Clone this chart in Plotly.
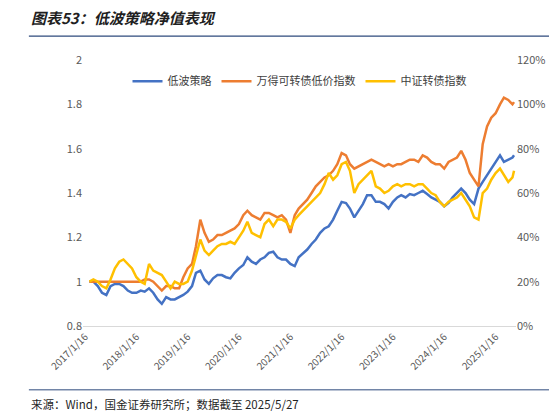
import pandas as pd
import plotly.graph_objects as go

dates = list(pd.date_range("2017-01-16", periods=101, freq="MS") + pd.Timedelta(days=15))
dates[-1] = pd.Timestamp("2025-05-27")

low_vol = [1.0, 1.0, 0.98, 0.95, 0.94, 0.98, 0.99, 0.99, 0.98, 0.96, 0.95, 0.95,
           0.96, 0.955, 0.97, 0.95, 0.92, 0.90, 0.93, 0.92, 0.92, 0.93, 0.94, 0.955,
           0.98, 1.04, 1.05, 1.01, 0.99, 1.015, 1.03, 1.03, 1.02, 1.015, 1.04, 1.06,
           1.075, 1.11, 1.09, 1.08, 1.10, 1.11, 1.13, 1.135, 1.11, 1.10, 1.10, 1.08,
           1.07, 1.11, 1.13, 1.145, 1.17, 1.19, 1.22, 1.24, 1.25, 1.28, 1.32, 1.36,
           1.355, 1.33, 1.29, 1.32, 1.35, 1.39, 1.39, 1.36, 1.36, 1.35, 1.33, 1.36,
           1.38, 1.39, 1.38, 1.395, 1.39, 1.40, 1.41, 1.395, 1.38, 1.37, 1.36, 1.34,
           1.355, 1.38, 1.40, 1.42, 1.40, 1.37, 1.35, 1.42, 1.45, 1.48, 1.51, 1.54,
           1.57, 1.54, 1.55, 1.56, 1.57]
cb_low = [1.0, 1.0, 1.0, 1.0, 1.0, 1.0, 1.0, 1.0, 1.0, 1.0, 1.0, 1.0,
          1.0, 1.01, 1.01, 1.0, 0.98, 0.96, 0.98, 0.98, 0.97, 0.97, 1.02, 1.06,
          1.08, 1.16, 1.28, 1.22, 1.18, 1.19, 1.21, 1.21, 1.22, 1.23, 1.24, 1.26,
          1.30, 1.32, 1.30, 1.29, 1.28, 1.31, 1.31, 1.30, 1.29, 1.30, 1.28, 1.22,
          1.30, 1.33, 1.35, 1.37, 1.40, 1.43, 1.45, 1.47, 1.48, 1.50, 1.53, 1.58,
          1.57, 1.53, 1.51, 1.52, 1.53, 1.54, 1.55, 1.54, 1.53, 1.52, 1.53, 1.52,
          1.53, 1.53, 1.54, 1.55, 1.55, 1.54, 1.57, 1.56, 1.54, 1.53, 1.53, 1.51,
          1.54, 1.55, 1.56, 1.59, 1.55, 1.49, 1.46, 1.43, 1.62, 1.70, 1.74, 1.76,
          1.80, 1.83, 1.82, 1.80, 1.81]
cb_index = [1.0, 1.01, 1.0, 0.98, 0.97, 1.01, 1.06, 1.09, 1.10, 1.08, 1.06, 1.02,
            1.0, 0.99, 1.08, 1.05, 1.04, 1.03, 1.0, 0.97, 1.0, 0.99, 0.99, 1.0,
            1.05, 1.12, 1.19, 1.14, 1.12, 1.14, 1.16, 1.17, 1.17, 1.18, 1.17, 1.20,
            1.23, 1.27, 1.22, 1.21, 1.20, 1.26, 1.28, 1.25, 1.28, 1.28, 1.27, 1.24,
            1.28, 1.30, 1.32, 1.34, 1.36, 1.38, 1.40, 1.44, 1.49, 1.46, 1.48, 1.53,
            1.54, 1.50, 1.40, 1.44, 1.46, 1.48, 1.50, 1.43, 1.42, 1.40, 1.41, 1.43,
            1.44, 1.43, 1.44, 1.44, 1.43, 1.44, 1.44, 1.42, 1.40, 1.39, 1.36, 1.34,
            1.36, 1.37, 1.38, 1.40, 1.37, 1.34, 1.29, 1.28, 1.40, 1.42, 1.46, 1.49,
            1.51, 1.48, 1.45, 1.47, 1.50]

tick_dates = [f"{y}-01-16" for y in range(2017, 2026)]
tick_labels = [f"{y}/1/16" for y in range(2017, 2026)]

fig = go.Figure()
fig.add_trace(go.Scatter(x=dates, y=low_vol, name="低波策略", mode="lines",
                         line=dict(color="#4472C4", width=2.5)))
fig.add_trace(go.Scatter(x=dates, y=cb_low, name="万得可转债低价指数", mode="lines",
                         line=dict(color="#ED7D31", width=2.5)))
fig.add_trace(go.Scatter(x=dates, y=cb_index, name="中证转债指数", mode="lines",
                         line=dict(color="#FFC000", width=2.5)))
# invisible trace so the right axis is drawn
fig.add_trace(go.Scatter(x=[dates[0]], y=[0.2], yaxis="y2", showlegend=False,
                         mode="markers", marker=dict(opacity=0), hoverinfo="skip"))

fig.update_layout(
    width=557, height=415,
    margin=dict(l=75, r=49, t=52, b=97),
    plot_bgcolor="white", paper_bgcolor="white",
    font=dict(family="Noto Sans CJK SC", size=11, color="#595959"),
    legend=dict(orientation="h", x=0.5, xanchor="center", y=0.975, yanchor="top",
                font=dict(size=11, color="#404040"), bgcolor="rgba(0,0,0,0)"),
    xaxis=dict(range=["2017-01-01", "2025-06-10"], tickvals=tick_dates, ticktext=tick_labels,
               tickangle=-45, showgrid=False, showline=True, linecolor="#D9D9D9",
               tickfont=dict(size=10)),
    yaxis=dict(range=[0.8, 2.0], showgrid=False, zeroline=False,
               tickvals=[0.8, 1, 1.2, 1.4, 1.6, 1.8, 2], ticktext=["0.8", "1", "1.2", "1.4", "1.6", "1.8", "2"]),
    yaxis2=dict(range=[0, 1.2], dtick=0.2, tickformat=".0%", overlaying="y", side="right",
                showgrid=False, zeroline=False),
    showlegend=True,
)

fig.add_annotation(text="<b><i>图表53：低波策略净值表现</i></b>", xref="paper", yref="paper",
                   x=-0.125, y=1.16, xanchor="left", yanchor="middle", showarrow=False,
                   font=dict(size=15, color="#1F1F1F"))
fig.add_shape(type="line", xref="paper", yref="paper", x0=-0.125, x1=1.09, y0=1.09, y1=1.09,
              line=dict(color="#2E4A7D", width=1.2))
fig.add_shape(type="line", xref="paper", yref="paper", x0=-0.125, x1=1.09, y0=-0.24, y1=-0.24,
              line=dict(color="#2E4A7D", width=1))
fig.add_annotation(text="来源：Wind，国金证券研究所；数据截至 2025/5/27", xref="paper", yref="paper",
                   x=-0.125, y=-0.295, xanchor="left", yanchor="middle", showarrow=False,
                   font=dict(size=11.5, color="#1F1F1F"))

fig.write_html("out.html")
